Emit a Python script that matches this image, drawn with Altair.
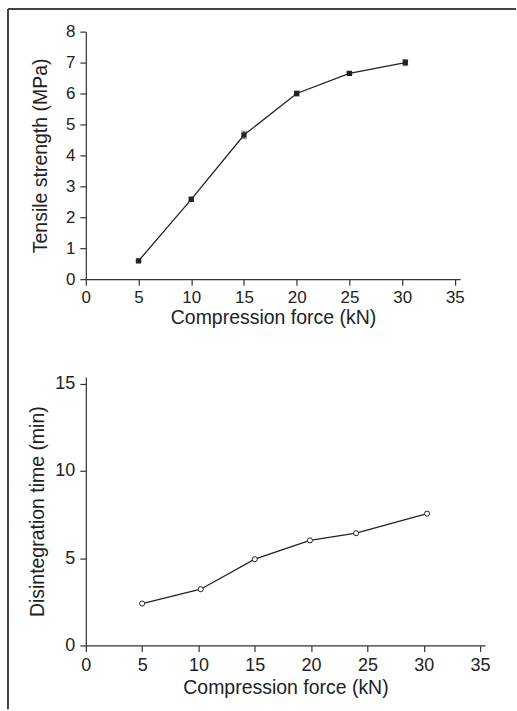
import altair as alt
import pandas as pd

# Top panel: tensile strength
force_ts = [5, 10, 15, 20, 25, 30.3]
tensile = [0.59, 2.58, 4.66, 6.0, 6.65, 7.0]
tensile_err = [0.03, 0.07, 0.12, 0.08, 0.04, 0.1]

# Bottom panel: disintegration time
force_dt = [5, 10.2, 15, 19.9, 24, 30.3]
disint = [2.4, 3.22, 4.94, 6.02, 6.43, 7.55]

x_ticks = [0, 5, 10, 15, 20, 25, 30, 35]
y1_ticks = [0, 1, 2, 3, 4, 5, 6, 7, 8]
y2_ticks = [0, 5, 10, 15]

df1 = pd.DataFrame({"f": force_ts, "t": tensile, "lo": [t - e for t, e in zip(tensile, tensile_err)],
                    "hi": [t + e for t, e in zip(tensile, tensile_err)]})
df2 = pd.DataFrame({"f": force_dt, "d": disint})

INK = "#222222"
FONT = "Liberation Sans"

AX = dict(grid=False, domainColor="#333333", tickColor="#333333", tickSize=6, domainWidth=1.2,
          tickWidth=1.2, labelFont=FONT, labelColor=INK,
          labelOverlap=False, labelFlush=False, titleFont=FONT, titleFontSize=19.5,
          titleFontWeight="normal", titleColor=INK)

xs1 = alt.Scale(domain=[0, 35.5], nice=False)
ys1 = alt.Scale(domain=[0, 8], nice=False)
xa1 = alt.Axis(values=x_ticks, title="Compression force (kN)", labelFontSize=17, labelPadding=4,
               titlePadding=3, **AX)
ya1 = alt.Axis(values=y1_ticks, title="Tensile strength (MPa)", labelFontSize=17, labelPadding=5,
               titlePadding=15, **AX)

base1 = alt.Chart(df1)
X1 = alt.X("f:Q", scale=xs1, axis=xa1)
line1 = base1.mark_line(color=INK, strokeWidth=1.3).encode(x=X1, y=alt.Y("t:Q", scale=ys1, axis=ya1))
err1 = base1.mark_rule(color="#555555", strokeWidth=1).encode(
    x=X1, y=alt.Y("lo:Q", scale=ys1, axis=ya1), y2="hi:Q")
caplo = base1.mark_tick(color="#555555", orient="horizontal", size=6, thickness=1).encode(
    x=X1, y=alt.Y("lo:Q", scale=ys1, axis=ya1))
caphi = base1.mark_tick(color="#555555", orient="horizontal", size=6, thickness=1).encode(
    x=X1, y=alt.Y("hi:Q", scale=ys1, axis=ya1))
pts1 = base1.mark_square(color=INK, opacity=1, size=28).encode(
    x=X1, y=alt.Y("t:Q", scale=ys1, axis=ya1))

# page frame (decoration)
frame_top = alt.Chart(pd.DataFrame({"a": [0]})).mark_rule(color="#444444", strokeWidth=2).encode(
    x=alt.value(-78), x2=alt.value(431), y=alt.value(-22.7))
frame_left = alt.Chart(pd.DataFrame({"a": [0]})).mark_rule(color="#444444", strokeWidth=2).encode(
    x=alt.value(-78), y=alt.value(-22.7), y2=alt.value(679))

top = alt.layer(line1, err1, caplo, caphi, pts1, frame_top, frame_left).properties(width=375, height=248)

xs2 = alt.Scale(domain=[0, 35.45], nice=False)
ys2 = alt.Scale(domain=[0, 15.38], nice=False)
xa2 = alt.Axis(values=x_ticks, title="Compression force (kN)", labelFontSize=18, labelPadding=5,
               titlePadding=4, **AX)
ya2 = alt.Axis(values=y2_ticks, title="Disintegration time (min)", labelFontSize=18, labelPadding=5,
               titlePadding=7, **AX)
base2 = alt.Chart(df2)
X2 = alt.X("f:Q", scale=xs2, axis=xa2)
Y2 = alt.Y("d:Q", scale=ys2, axis=ya2)
line2 = base2.mark_line(color=INK, strokeWidth=1.3).encode(x=X2, y=Y2)
pts2 = base2.mark_point(shape="circle", filled=True, fill="white", stroke=INK, strokeWidth=1,
                        opacity=1, size=26).encode(x=X2, y=Y2)
bottom = alt.layer(line2, pts2).properties(width=400, height=269)

chart = alt.vconcat(top, bottom, spacing=98, bounds="flush").properties(
    padding={"left": 7, "top": 7, "right": 0, "bottom": 0}
).configure_view(stroke=None)

chart.save("out.html", embed_options={"renderer": "svg", "actions": False})
